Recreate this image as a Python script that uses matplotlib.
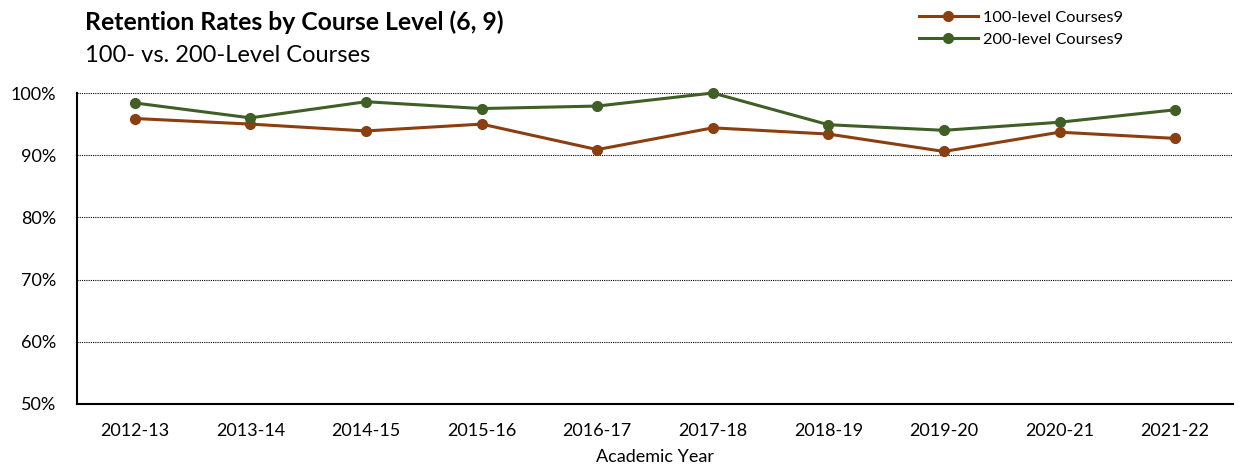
import matplotlib
matplotlib.use("Agg")
import matplotlib.pyplot as plt
from matplotlib.ticker import FuncFormatter

years = ["2012-13", "2013-14", "2014-15", "2015-16", "2016-17",
         "2017-18", "2018-19", "2019-20", "2020-21", "2021-22"]
level100 = [95.9, 95.0, 93.9, 95.0, 90.9, 94.4, 93.4, 90.6, 93.7, 92.7]
level200 = [98.4, 96.0, 98.6, 97.5, 97.9, 100.0, 94.9, 94.0, 95.3, 97.3]

plt.rcParams['font.family'] = ['Lato', 'DejaVu Sans']

fig = plt.figure(figsize=(12.39, 4.74), dpi=100)
ax = fig.add_axes([77/1239, 1-404/474, (1233-77)/1239, (404-93)/474])

x = list(range(len(years)))
ax.plot(x, level100, color="#8B3E0F", lw=2.2, marker="o", ms=7, label="100-level Courses9", clip_on=False, zorder=3)
ax.plot(x, level200, color="#3F5F26", lw=2.2, marker="o", ms=7, label="200-level Courses9", clip_on=False, zorder=3)

ax.set_xlim(-0.5, len(years)-0.5)
ax.set_ylim(50, 100)
ax.set_yticks([50, 60, 70, 80, 90, 100])
ax.yaxis.set_major_formatter(FuncFormatter(lambda v, p: f"{v:.0f}%"))
ax.set_xticks(x)
ax.set_xticklabels(years)
ax.tick_params(axis='both', length=0, labelsize=13)
ax.tick_params(axis='x', pad=14)
ax.tick_params(axis='y', pad=15)
for v in [60, 70, 80, 90, 100]:
    ax.axhline(v, color="black", lw=0.8, ls=(0, (1, 1)), zorder=1)
ax.spines['top'].set_visible(False)
ax.spines['right'].set_visible(False)
ax.spines['left'].set_linewidth(1.5)
ax.spines['bottom'].set_linewidth(1.5)
ax.set_xlabel("Academic Year", fontsize=13, labelpad=7)

fig.text(85/1239, 1-22/474, "Retention Rates by Course Level (6, 9)", fontsize=17.8, fontweight="bold", va="center", ha="left")
fig.text(85/1239, 1-55/474, "100- vs. 200-Level Courses", fontsize=17, va="center", ha="left")

fig.legend(loc="upper left", bbox_to_anchor=(912/1239, 1-4/474), frameon=False, fontsize=11.8,
           handlelength=3.6, labelspacing=0.45, handletextpad=0.35, borderaxespad=0)

fig.savefig("out.png", dpi=100)
